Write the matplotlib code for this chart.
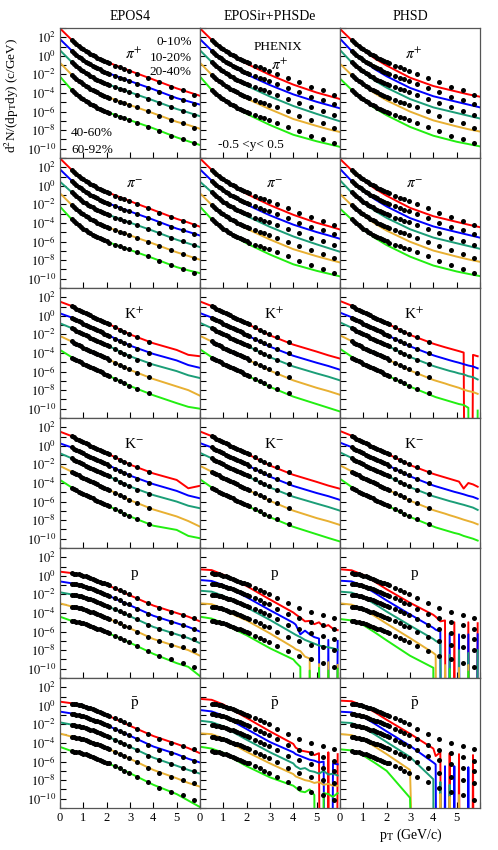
#!/usr/bin/env python3
"""Identified hadron pT spectra, PHENIX data vs EPOS4 / EPOSir+PHSDe / PHSD."""

import numpy as np
import matplotlib

matplotlib.use("Agg")
import matplotlib.pyplot as plt
from matplotlib.ticker import FixedLocator, FuncFormatter, NullFormatter

plt.rcParams["font.family"] = ["Liberation Serif", "DejaVu Serif"]
plt.rcParams["mathtext.fontset"] = "stix"

MODELS = ["EPOS4", "EPOSir+PHSDe", "PHSD"]
SPECIES = [r"$\pi^{+}$", r"$\pi^{-}$", r"K$^{+}$", r"K$^{-}$", "p", r"$\bar{\mathrm{p}}$"]
CENTRALITIES = ["0-10%", "10-20%", "20-40%", "40-60%", "60-92%"]
COLORS = ["#ff0000", "#0000ff", "#1b9e77", "#e8b032", "#22ee11"]

# PHENIX points (log10 of the plotted, scaled yield), one row per centrality
PT_DATA = [0.5, 0.6, 0.7, 0.8, 0.9, 1.0, 1.1, 1.2, 1.3, 1.4, 1.5, 1.6, 1.7, 1.8, 1.9, 2.0, 2.1,
           2.35, 2.55, 2.75, 2.95, 3.3, 3.75, 4.25, 4.75, 5.25, 5.75]
PT_K = [0.5, 0.6, 0.7, 0.8, 0.9, 1.0, 1.1, 1.2, 1.3, 1.4, 1.5, 1.6, 1.7, 1.8, 1.9, 2.0, 2.1,
        2.35, 2.55, 2.75, 2.95, 3.3, 3.8]

PIP_DATA = [
    [1.71, 1.48, 1.27, 1.08, 0.89, 0.71, 0.54, 0.38, 0.22, 0.08, -0.06, -0.19, -0.31, -0.43, -0.54, -0.65, -0.76,
     -1.05, -1.22, -1.40, -1.58, -1.90, -2.35, -2.85, -3.35, -3.72, -4.17],
    [0.56, 0.33, 0.12, -0.07, -0.26, -0.44, -0.61, -0.77, -0.93, -1.07, -1.21, -1.34, -1.46, -1.58, -1.69, -1.80, -1.90,
     -2.18, -2.34, -2.51, -2.68, -2.98, -3.41, -3.90, -4.38, -4.74, -5.17],
    [-0.67, -0.9, -1.11, -1.3, -1.49, -1.67, -1.84, -2.0, -2.16, -2.3, -2.44, -2.57, -2.69, -2.81, -2.92, -3.02, -3.13,
     -3.4, -3.56, -3.72, -3.88, -4.18, -4.6, -5.08, -5.56, -5.92, -6.37],
    [-2.04, -2.27, -2.48, -2.67, -2.86, -3.04, -3.21, -3.37, -3.53, -3.67, -3.81, -3.94, -4.06, -4.18, -4.29, -4.4, -4.51,
     -4.78, -4.94, -5.1, -5.26, -5.56, -5.98, -6.45, -6.92, -7.28, -7.72],
    [-3.67, -3.9, -4.11, -4.3, -4.49, -4.67, -4.84, -5.0, -5.16, -5.3, -5.44, -5.57, -5.69, -5.81, -5.92, -6.03, -6.14,
     -6.41, -6.57, -6.73, -6.89, -7.19, -7.62, -8.1, -8.6, -8.97, -9.42],
]
PIM_DATA = [
    [1.71, 1.48, 1.27, 1.08, 0.89, 0.71, 0.54, 0.38, 0.22, 0.08, -0.06, -0.19, -0.31, -0.43, -0.55, -0.66, -0.77,
     -1.08, -1.26, -1.44, -1.62, -1.95, -2.4, -2.9, -3.38, -3.75, -4.2],
    [0.55, 0.32, 0.11, -0.08, -0.27, -0.45, -0.62, -0.78, -0.94, -1.08, -1.22, -1.35, -1.47, -1.59, -1.71, -1.82, -1.93,
     -2.22, -2.39, -2.56, -2.73, -3.03, -3.46, -3.95, -4.42, -4.78, -5.2],
    [-0.7, -0.93, -1.14, -1.33, -1.52, -1.7, -1.87, -2.03, -2.19, -2.33, -2.47, -2.6, -2.72, -2.84, -2.95, -3.05, -3.16,
     -3.43, -3.59, -3.75, -3.91, -4.22, -4.64, -5.12, -5.6, -5.96, -6.4],
    [-2.06, -2.29, -2.5, -2.69, -2.88, -3.06, -3.23, -3.39, -3.55, -3.69, -3.83, -3.96, -4.08, -4.2, -4.31, -4.42, -4.53,
     -4.8, -4.96, -5.12, -5.28, -5.58, -6.0, -6.48, -6.95, -7.3, -7.75],
    [-3.6, -3.83, -4.05, -4.25, -4.44, -4.62, -4.8, -4.96, -5.12, -5.26, -5.4, -5.53, -5.65, -5.77, -5.88, -5.99, -6.1,
     -6.37, -6.53, -6.69, -6.85, -7.16, -7.6, -8.08, -8.56, -8.92, -9.38],
]
KP_DATA = [
    [1.06, 0.93, 0.79, 0.66, 0.53, 0.41, 0.28, 0.16, 0.04, -0.08, -0.2, -0.32, -0.43, -0.54, -0.66, -0.77, -0.89,
     -1.22, -1.48, -1.72, -1.95, -2.32, -2.8],
    [-0.18, -0.31, -0.45, -0.58, -0.71, -0.83, -0.96, -1.08, -1.2, -1.32, -1.44, -1.56, -1.67, -1.78, -1.9, -2.01, -2.13,
     -2.46, -2.72, -2.96, -3.19, -3.56, -4.04],
    [-1.32, -1.45, -1.59, -1.72, -1.85, -1.97, -2.1, -2.22, -2.34, -2.46, -2.58, -2.7, -2.81, -2.92, -3.04, -3.15, -3.27,
     -3.6, -3.86, -4.1, -4.33, -4.7, -5.18],
    [-2.76, -2.89, -3.03, -3.16, -3.29, -3.41, -3.54, -3.66, -3.78, -3.9, -4.02, -4.14, -4.25, -4.36, -4.48, -4.59, -4.71,
     -5.04, -5.3, -5.54, -5.77, -6.14, -6.62],
    [-4.49, -4.62, -4.76, -4.89, -5.02, -5.14, -5.27, -5.39, -5.51, -5.63, -5.75, -5.87, -5.98, -6.09, -6.21, -6.32, -6.44,
     -6.77, -7.03, -7.27, -7.5, -7.87, -8.35],
]
KM_DATA = [
    [1.05, 0.92, 0.78, 0.65, 0.52, 0.4, 0.27, 0.15, 0.03, -0.09, -0.21, -0.33, -0.44, -0.55, -0.67, -0.78, -0.9,
     -1.24, -1.5, -1.75, -1.98, -2.33, -2.78],
    [-0.17, -0.3, -0.44, -0.57, -0.7, -0.82, -0.95, -1.07, -1.19, -1.31, -1.43, -1.55, -1.66, -1.77, -1.89, -2.0, -2.12,
     -2.45, -2.71, -2.95, -3.18, -3.55, -4.02],
    [-1.34, -1.47, -1.61, -1.74, -1.87, -1.99, -2.12, -2.24, -2.36, -2.48, -2.6, -2.72, -2.83, -2.94, -3.06, -3.17, -3.29,
     -3.62, -3.88, -4.12, -4.35, -4.72, -5.2],
    [-2.78, -2.91, -3.05, -3.18, -3.31, -3.43, -3.56, -3.68, -3.8, -3.92, -4.04, -4.16, -4.27, -4.38, -4.5, -4.61, -4.73,
     -5.06, -5.32, -5.56, -5.79, -6.16, -6.64],
    [-4.52, -4.65, -4.79, -4.92, -5.05, -5.17, -5.3, -5.42, -5.54, -5.66, -5.78, -5.9, -6.01, -6.12, -6.24, -6.35, -6.47,
     -6.8, -7.06, -7.3, -7.53, -7.9, -8.38],
]
P_DATA = [
    [0.27, 0.24, 0.2, 0.15, 0.09, 0.02, -0.06, -0.15, -0.24, -0.33, -0.43, -0.53, -0.62, -0.72, -0.82, -0.92, -1.02,
     -1.3, -1.52, -1.75, -1.95, -2.4, -2.95, -3.45, -3.85, -4.2, -4.5],
    [-0.85, -0.88, -0.92, -0.97, -1.03, -1.1, -1.18, -1.27, -1.36, -1.45, -1.55, -1.65, -1.74, -1.84, -1.94, -2.04, -2.14,
     -2.42, -2.64, -2.87, -3.07, -3.52, -4.08, -4.57, -4.97, -5.32, -5.7],
    [-2.03, -2.06, -2.1, -2.15, -2.21, -2.28, -2.36, -2.45, -2.54, -2.63, -2.73, -2.83, -2.92, -3.02, -3.12, -3.22, -3.32,
     -3.6, -3.82, -4.05, -4.25, -4.7, -5.26, -5.75, -6.15, -6.5, -6.83],
    [-3.33, -3.36, -3.4, -3.45, -3.51, -3.58, -3.66, -3.75, -3.84, -3.93, -4.03, -4.13, -4.22, -4.32, -4.42, -4.52, -4.62,
     -4.9, -5.12, -5.35, -5.55, -6.0, -6.55, -7.02, -7.4, -7.7, -7.95],
    [-4.88, -4.91, -4.95, -5.0, -5.06, -5.13, -5.21, -5.3, -5.39, -5.48, -5.58, -5.68, -5.77, -5.87, -5.97, -6.07, -6.17,
     -6.45, -6.67, -6.9, -7.1, -7.55, -8.1, -8.6, -9.0, -9.4, -9.85],
]
PBAR_DATA = [
    [0.25, 0.22, 0.18, 0.12, 0.06, -0.01, -0.09, -0.18, -0.27, -0.36, -0.46, -0.56, -0.65, -0.75, -0.85, -0.95, -1.05,
     -1.33, -1.56, -1.79, -2.0, -2.45, -3.02, -3.52, -3.95, -4.3, -4.68],
    [-0.88, -0.91, -0.95, -1.0, -1.06, -1.13, -1.21, -1.3, -1.39, -1.48, -1.58, -1.68, -1.77, -1.87, -1.97, -2.07, -2.17,
     -2.46, -2.69, -2.92, -3.13, -3.6, -4.18, -4.7, -5.12, -5.5, -5.9],
    [-2.05, -2.08, -2.12, -2.17, -2.23, -2.3, -2.38, -2.47, -2.56, -2.65, -2.75, -2.85, -2.94, -3.04, -3.14, -3.24, -3.34,
     -3.63, -3.86, -4.09, -4.3, -4.77, -5.35, -5.87, -6.3, -6.65, -6.97],
    [-3.36, -3.39, -3.43, -3.48, -3.54, -3.61, -3.69, -3.78, -3.87, -3.96, -4.06, -4.16, -4.25, -4.35, -4.45, -4.55, -4.65,
     -4.94, -5.17, -5.41, -5.62, -6.09, -6.68, -7.2, -7.65, -8.0, -8.34],
    [-4.9, -4.93, -4.97, -5.02, -5.08, -5.15, -5.23, -5.32, -5.41, -5.5, -5.6, -5.7, -5.8, -5.9, -6.0, -6.1, -6.2,
     -6.5, -6.73, -6.97, -7.18, -7.65, -8.25, -8.8, -9.25, -9.65, -10.1],
]

# model curves, log10 values on this pT grid
PT_MODEL = [0.0, 0.5, 1.0, 1.5, 2.0, 3.0, 4.0, 5.0, 5.5, 6.0]
# noisy high-pT ends of some transport curves (finer grid, EMPTY = empty bin)
PT_TAIL = [4.1, 4.3, 4.5, 4.7, 4.9, 5.1, 5.3, 5.5, 5.7, 5.9]
EMPTY = -99.0

PIP_EPOS4 = [
    [2.96, 1.72, 0.7, -0.06, -0.65, -1.62, -2.55, -3.5, -3.9, -4.3],
    [1.8, 0.57, -0.44, -1.21, -1.8, -2.72, -3.6, -4.55, -4.9, -5.25],
    [0.6, -0.66, -1.67, -2.44, -3.02, -3.92, -4.8, -5.72, -6.1, -6.5],
    [-0.75, -2.03, -3.04, -3.81, -4.4, -5.3, -6.18, -7.1, -7.45, -7.85],
    [-2.24, -3.66, -4.67, -5.43, -6.03, -6.93, -7.8, -8.78, -9.2, -9.6],
]
PIP_EPOSIR = [
    [2.96, 1.72, 0.68, -0.15, -0.85, -2.05, -3.1, -3.95, -4.3, -4.65],
    [1.8, 0.57, -0.46, -1.3, -2.0, -3.15, -4.15, -4.95, -5.3, -5.65],
    [0.6, -0.66, -1.7, -2.52, -3.22, -4.38, -5.4, -6.25, -6.65, -7.05],
    [-0.75, -2.03, -3.07, -3.9, -4.6, -5.75, -6.8, -7.55, -7.9, -8.2],
    [-2.24, -3.66, -4.7, -5.52, -6.25, -7.45, -8.5, -9.2, -9.5, -9.8],
]
PIP_PHSD = [
    [2.9, 1.68, 0.6, -0.3, -1.05, -2.35, -3.25, -3.85, -4.15, -4.4],
    [1.85, 0.52, -0.55, -1.45, -2.2, -3.45, -4.35, -4.95, -5.25, -5.55],
    [0.63, -0.7, -1.78, -2.68, -3.43, -4.65, -5.55, -6.15, -6.45, -6.75],
    [-0.85, -2.07, -3.15, -4.05, -4.8, -6.0, -6.95, -7.6, -7.9, -8.15],
    [-2.45, -3.66, -4.75, -5.65, -6.4, -7.65, -8.6, -9.25, -9.5, -9.75],
]
PIM_EPOS4 = [
    [2.96, 1.72, 0.7, -0.07, -0.66, -1.65, -2.6, -3.55, -3.95, -4.4],
    [1.78, 0.56, -0.45, -1.22, -1.82, -2.76, -3.65, -4.6, -4.95, -5.35],
    [0.45, -0.68, -1.7, -2.47, -3.05, -3.96, -4.85, -5.8, -6.2, -6.6],
    [-0.8, -2.05, -3.06, -3.83, -4.43, -5.33, -6.22, -7.15, -7.55, -7.95],
    [-2.24, -3.6, -4.62, -5.4, -6.0, -6.9, -7.8, -8.75, -9.1, -9.4],
]
PIM_EPOSIR = [
    [2.96, 1.72, 0.68, -0.16, -0.87, -2.08, -3.12, -3.98, -4.33, -4.7],
    [1.78, 0.56, -0.47, -1.32, -2.02, -3.18, -4.18, -4.98, -5.33, -5.7],
    [0.45, -0.68, -1.72, -2.55, -3.25, -4.42, -5.45, -6.3, -6.7, -7.1],
    [-0.8, -2.05, -3.09, -3.92, -4.62, -5.78, -6.82, -7.58, -7.92, -8.25],
    [-2.24, -3.6, -4.65, -5.48, -6.2, -7.4, -8.45, -9.15, -9.45, -9.75],
]
PIM_PHSD = [
    [2.9, 1.68, 0.6, -0.31, -1.07, -2.37, -3.27, -3.88, -4.18, -4.45],
    [1.83, 0.51, -0.56, -1.46, -2.22, -3.47, -4.37, -4.98, -5.28, -5.58],
    [0.6, -0.72, -1.8, -2.7, -3.45, -4.67, -5.57, -6.18, -6.48, -6.78],
    [-0.87, -2.09, -3.17, -4.07, -4.82, -6.02, -6.97, -7.62, -7.92, -8.18],
    [-2.45, -3.62, -4.72, -5.62, -6.38, -7.62, -8.58, -9.22, -9.48, -9.72],
]
KP_EPOS4 = [
    [1.53, 1.06, 0.4, -0.2, -0.77, -2.0, -2.95, -3.67, -4.2, -4.35],
    [0.27, -0.18, -0.83, -1.44, -2.01, -3.2, -4.1, -4.8, -5.3, -5.6],
    [-0.8, -1.32, -1.96, -2.56, -3.15, -4.35, -5.25, -5.95, -6.4, -6.7],
    [-2.17, -2.76, -3.41, -4.02, -4.59, -5.82, -6.8, -7.6, -8.0, -8.6],
    [-3.67, -4.45, -5.15, -5.75, -6.35, -7.55, -8.55, -9.4, -9.8, -10.0],
]
KP_EPOSIR = [
    [1.55, 1.06, 0.4, -0.22, -0.82, -2.1, -3.1, -3.85, -4.25, -4.6],
    [0.3, -0.18, -0.84, -1.47, -2.07, -3.32, -4.3, -5.05, -5.4, -5.8],
    [-0.75, -1.32, -1.98, -2.6, -3.2, -4.45, -5.45, -6.2, -6.55, -6.95],
    [-2.15, -2.76, -3.42, -4.05, -4.65, -5.9, -6.95, -7.75, -8.1, -8.5],
    [-3.6, -4.45, -5.15, -5.78, -6.4, -7.65, -8.7, -9.5, -9.9, -10.3],
]
KP_PHSD = [
    [1.6, 1.1, 0.42, -0.2, -0.8, -2.05, -3.0],
    [0.35, -0.15, -0.82, -1.45, -2.05, -3.28, -4.25],
    [-0.7, -1.28, -1.95, -2.58, -3.18, -4.42, -5.4],
    [-2.1, -2.72, -3.4, -4.03, -4.63, -5.88, -6.9],
    [-3.55, -4.4, -5.12, -5.76, -6.38, -7.62, -8.65],
]
KP_PHSD_TAIL = [
    [-3.08, -3.23, -3.38, -3.52, -3.66, -3.8, -3.95, EMPTY, -4.2, -4.35],
    [-4.33, -4.48, -4.63, -4.78, -4.92, -5.05, -5.2, -5.35, -5.45, -5.65],
    [-5.48, -5.63, -5.78, -5.93, -6.05, -6.2, -6.3, -6.5, -6.6, -6.85],
    [-6.98, -7.13, -7.28, -7.45, -7.6, -7.75, -7.95, -8.1, -8.2, -8.4],
    [-8.75, -8.9, -9.05, -9.2, -9.35, -9.5, -9.6, -9.9, EMPTY, -10.2],
]
KM_EPOS4 = [
    [1.53, 1.05, 0.39, -0.21, -0.78, -2.02, -2.97, -3.67, -4.57, -4.3],
    [0.27, -0.17, -0.82, -1.43, -2.0, -3.2, -4.12, -4.85, -5.35, -5.65],
    [-0.8, -1.34, -1.98, -2.58, -3.17, -4.38, -5.3, -6.0, -6.45, -6.72],
    [-2.17, -2.78, -3.43, -4.04, -4.61, -5.85, -6.85, -7.6, -8.1, -8.7],
    [-3.67, -4.48, -5.18, -5.78, -6.38, -7.6, -8.6, -9.05, -9.7, -9.95],
]
KM_EPOSIR = [
    [1.55, 1.05, 0.39, -0.23, -0.83, -2.12, -3.12, -3.88, -4.28, -4.62],
    [0.3, -0.17, -0.83, -1.46, -2.06, -3.32, -4.32, -5.08, -5.42, -5.82],
    [-0.75, -1.34, -2.0, -2.62, -3.22, -4.48, -5.48, -6.22, -6.58, -6.98],
    [-2.15, -2.78, -3.44, -4.07, -4.67, -5.92, -6.98, -7.78, -8.12, -8.52],
    [-3.6, -4.48, -5.18, -5.8, -6.42, -7.68, -8.72, -9.52, -9.92, -10.3],
]
KM_PHSD = [
    [1.6, 1.09, 0.41, -0.21, -0.81, -2.07, -3.02],
    [0.35, -0.14, -0.81, -1.44, -2.04, -3.28, -4.27],
    [-0.7, -1.3, -1.97, -2.6, -3.2, -4.45, -5.43],
    [-2.1, -2.74, -3.42, -4.05, -4.65, -5.9, -6.92],
    [-3.55, -4.43, -5.15, -5.78, -6.4, -7.65, -8.68],
]
KM_PHSD_TAIL = [
    [-3.1, -3.25, -3.4, -3.55, -3.7, -3.85, -4.6, -4.0, -4.15, -4.4],
    [-4.35, -4.5, -4.65, -4.8, -4.95, -5.08, -5.22, -5.38, -5.5, -5.7],
    [-5.5, -5.65, -5.8, -5.95, -6.08, -6.22, -6.35, -6.5, -6.65, -6.9],
    [-7.0, -7.15, -7.3, -7.47, -7.62, -7.78, -7.95, -8.1, -8.25, -8.45],
    [-8.78, -8.93, -9.08, -9.23, -9.38, -9.5, -9.7, -9.85, -10.0, -10.2],
]
P_EPOS4 = [
    [0.45, 0.3, 0.0, -0.45, -0.95, -2.1, -3.2, -4.0, -4.4, -4.9],
    [-0.6, -0.8, -1.1, -1.55, -2.05, -3.17, -4.3, -5.1, -5.5, -6.0],
    [-1.77, -2.0, -2.28, -2.73, -3.22, -4.35, -5.5, -6.3, -6.7, -7.25],
    [-2.96, -3.3, -3.58, -4.0, -4.5, -5.65, -6.8, -7.6, -8.0, -8.6],
    [-4.4, -4.85, -5.15, -5.6, -6.1, -7.2, -8.4, -9.4, -9.8, -10.8],
]
P_EPOSIR = [
    [0.7, 0.62, 0.12, -0.5, -1.1, -2.55, -3.95],
    [-0.45, -0.55, -1.0, -1.65, -2.3, -3.7, -5.05],
    [-1.6, -1.7, -2.15, -2.8, -3.4, -4.75, -6.2],
    [-2.96, -3.05, -3.55, -4.25, -4.8, -6.2, -7.7],
    [-4.4, -4.6, -5.1, -5.8, -6.4, -7.8, -9.0],
]
P_EPOSIR_TAIL = [
    [-4.15, -4.5, -4.9, -4.85, -5.2, -5.0, -5.5, -5.3, -5.7, -5.85],
    [-5.25, -6.3, -5.9, -6.3, -6.6, -6.75, EMPTY, -6.9, EMPTY, -7.0],
    [-6.35, -6.6, -6.9, -7.1, -7.3, -7.5, -7.6, -7.7, -7.8, -7.95],
    [-7.9, -8.1, -8.7, -8.9, EMPTY, -9.5, EMPTY, -9.3, EMPTY, -9.6],
    [-9.3, -9.8, EMPTY, -10.2, EMPTY, -9.9, EMPTY, -10.2, EMPTY, -10.0],
]
P_PHSD = [
    [0.71, 0.6, 0.1, -0.65, -1.45, -2.9, -4.2],
    [-0.52, -0.6, -1.1, -1.85, -2.65, -4.15, -5.6],
    [-1.7, -1.8, -2.3, -3.05, -3.85, -5.35, -6.8],
    [-2.96, -3.1, -3.6, -4.35, -5.15, -6.7, -8.3],
    [-4.65, -4.8, -5.3, -6.1, -6.95, -8.6, -9.9],
]
P_PHSD_TAIL = [
    [-4.4, -4.9, -4.8, EMPTY, -5.0, EMPTY, EMPTY, -5.0, EMPTY, -5.1],
    [-5.8, -6.0, EMPTY, -6.2, EMPTY, -6.3, EMPTY, -6.3, EMPTY, -6.3],
    [-7.0, -7.3, EMPTY, -8.5, EMPTY, -8.0, EMPTY, -8.3, EMPTY, -8.0],
    [-8.5, EMPTY, -9.6, EMPTY, EMPTY, -9.9, EMPTY, -9.6, EMPTY, EMPTY],
    [EMPTY, EMPTY, EMPTY, -10.0, EMPTY, EMPTY, EMPTY, -10.3, EMPTY, EMPTY],
]
PBAR_EPOS4 = [
    [0.45, 0.28, -0.02, -0.47, -0.98, -2.15, -3.25, -4.1, -4.55, -5.1],
    [-0.62, -0.82, -1.12, -1.57, -2.08, -3.22, -4.38, -5.2, -5.7, -6.1],
    [-1.78, -2.02, -2.3, -2.75, -3.25, -4.4, -5.58, -6.45, -6.9, -7.3],
    [-2.98, -3.32, -3.6, -4.02, -4.53, -5.7, -6.9, -7.8, -8.3, -8.7],
    [-4.42, -4.87, -5.17, -5.62, -6.12, -7.25, -8.5, -9.5, -10.2, -10.9],
]
PBAR_EPOSIR = [
    [0.75, 0.65, 0.15, -0.6, -1.3, -2.75, -4.1],
    [-0.45, -0.6, -1.05, -1.8, -2.5, -3.9, -5.0],
    [-1.6, -1.75, -2.2, -2.95, -3.65, -5.0, -6.2],
    [-2.96, -3.05, -3.5, -4.25, -4.95, -6.2, -7.35],
    [-4.4, -4.6, -5.05, -5.8, -6.5, -7.7, -8.6],
]
PBAR_EPOSIR_TAIL = [
    [-4.5, -4.8, -4.9, -5.0, -5.3, -5.1, EMPTY, -5.0, EMPTY, -5.2],
    [-5.2, -5.4, -5.6, -5.8, -5.9, -6.1, -6.0, EMPTY, -6.2, -6.3],
    [-6.5, -6.8, -6.7, -7.0, -7.1, -7.3, -7.0, -7.4, -7.3, -7.5],
    [-7.6, -7.8, -8.0, -8.1, -8.3, -8.2, -8.5, -8.4, -8.6, -8.6],
    [-8.8, -9.2, -9.3, -9.0, -9.6, EMPTY, -9.4, -9.5, -9.8, -9.4],
]
PBAR_PHSD = [
    [0.56, 0.5, 0.0, -0.7, -1.5, -3.0, -4.6],
    [-0.63, -0.7, -1.2, -1.95, -2.75, -4.3, -6.1],
    [-1.77, -1.85, -2.35, -3.1, -3.9, -5.5, -7.9],
    [-3.03, -3.15, -3.65, -4.4, -5.2, -6.9, EMPTY],
    [-4.68, -4.8, -5.35, -6.15, -7.0, -9.9, EMPTY],
]
PBAR_PHSD_TAIL = [
    [-5.4, -5.0, EMPTY, -5.1, EMPTY, -5.2, EMPTY, EMPTY, -5.3, EMPTY],
    [-6.3, EMPTY, -6.5, EMPTY, -6.5, EMPTY, EMPTY, -6.6, EMPTY, EMPTY],
    [EMPTY, -8.2, EMPTY, -8.5, EMPTY, EMPTY, EMPTY, EMPTY, EMPTY, EMPTY],
    [EMPTY, -9.5, EMPTY, -9.8, EMPTY, -9.6, EMPTY, EMPTY, EMPTY, EMPTY],
    [EMPTY, EMPTY, EMPTY, EMPTY, EMPTY, EMPTY, EMPTY, EMPTY, EMPTY, EMPTY],
]

SPECIES_DATA = [PIP_DATA, PIM_DATA, KP_DATA, KM_DATA, P_DATA, PBAR_DATA]
SPECIES_PT = [PT_DATA, PT_DATA, PT_K, PT_K, PT_DATA, PT_DATA]
MODEL_CURVES = [
    [PIP_EPOS4, PIP_EPOSIR, PIP_PHSD],
    [PIM_EPOS4, PIM_EPOSIR, PIM_PHSD],
    [KP_EPOS4, KP_EPOSIR, KP_PHSD],
    [KM_EPOS4, KM_EPOSIR, KM_PHSD],
    [P_EPOS4, P_EPOSIR, P_PHSD],
    [PBAR_EPOS4, PBAR_EPOSIR, PBAR_PHSD],
]
MODEL_TAILS = {
    (2, 2): KP_PHSD_TAIL, (3, 2): KM_PHSD_TAIL,
    (4, 1): P_EPOSIR_TAIL, (4, 2): P_PHSD_TAIL,
    (5, 1): PBAR_EPOSIR_TAIL, (5, 2): PBAR_PHSD_TAIL,
}

W, H = 498, 850
fig, axes = plt.subplots(6, 3, figsize=(W / 100, H / 100), dpi=100, sharex=True, sharey=True)
fig.subplots_adjust(left=60 / W, right=480 / W, top=1 - 28 / H, bottom=1 - 808 / H,
                    wspace=0, hspace=0)


def ytick_label(v, _pos):
    return r"$10^{%d}$" % int(round(np.log10(v)))


def xtick_label(v, _pos):
    return "" if v > 5.5 else "%d" % v


for r in range(6):
    for c in range(3):
        ax = axes[r, c]
        ax.set_yscale("log")
        tail = MODEL_TAILS.get((r, c))
        for k in range(5):
            vals = list(MODEL_CURVES[r][c][k])
            pts = PT_MODEL[:len(vals)]
            if tail is not None:
                pts = pts + PT_TAIL
                vals = vals + tail[k]
            ax.plot(pts, 10.0 ** np.array(vals), color=COLORS[k], lw=1.4, zorder=2)
            ax.plot(SPECIES_PT[r], 10.0 ** np.array(SPECIES_DATA[r][k]), "o", color="black",
                    ms=3.6, mew=0, zorder=3)
        ax.set_xlim(0, 6)
        ax.set_ylim(1e-11, 1e3)
        ax.yaxis.set_major_locator(FixedLocator([10.0 ** e for e in range(-10, 3, 2)]))
        ax.yaxis.set_minor_locator(FixedLocator([10.0 ** e for e in range(-11, 4, 2)]))
        ax.yaxis.set_major_formatter(FuncFormatter(ytick_label))
        ax.yaxis.set_minor_formatter(NullFormatter())
        ax.xaxis.set_major_locator(FixedLocator([0, 1, 2, 3, 4, 5, 6]))
        ax.xaxis.set_major_formatter(FuncFormatter(xtick_label))
        ax.tick_params(which="both", direction="in", length=4.5, width=0.8,
                       labelsize=9, pad=3, top=False, right=False)
        for sp in ax.spines.values():
            sp.set_color("#555555")
            sp.set_linewidth(0.9)
        if r == 0 and c == 1:
            ax.text(0.57, 0.715, SPECIES[r], transform=ax.transAxes, ha="center",
                    va="center", fontsize=11)
        else:
            ax.text(0.53, 0.8, SPECIES[r], transform=ax.transAxes, ha="center",
                    va="center", fontsize=11)

# centrality classes and annotations
ax0 = axes[0, 0]
for label, ypos in zip(CENTRALITIES[:3], [0.89, 0.77, 0.66]):
    ax0.text(0.94, ypos, label, transform=ax0.transAxes, ha="right", va="center", fontsize=9.5)
for label, ypos in zip(CENTRALITIES[3:], [0.19, 0.06]):
    ax0.text(0.08, ypos, label, transform=ax0.transAxes, ha="left", va="center", fontsize=9.5)
axes[0, 1].text(0.557, 0.854, "PHENIX", transform=axes[0, 1].transAxes, ha="center",
                va="center", fontsize=9.5)
axes[0, 1].text(0.36, 0.1, "-0.5 <y< 0.5", transform=axes[0, 1].transAxes, ha="center",
                va="center", fontsize=9.5)

for c, name in enumerate(MODELS):
    fig.text((130 + 140 * c) / W, 1 - 17 / H, name, ha="center", va="center", fontsize=10)
fig.text(12 / W, 1 - 95 / H, r"d$^2$N/(dp$_{\rm T}$dy) (c/GeV)", rotation=90,
         ha="center", va="center", fontsize=9.5)
fig.text(411 / W, 1 - 835 / H, r"p$_{\rm T}$ (GeV/c)", ha="center", va="center", fontsize=10)

fig.savefig("out.png", dpi=100)
